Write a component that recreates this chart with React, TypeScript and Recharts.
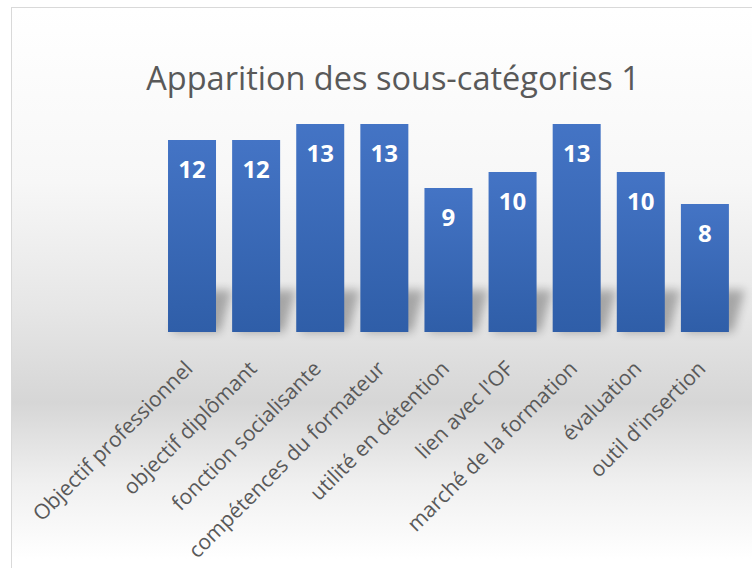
import { Bar, BarChart, LabelList, XAxis, YAxis } from "recharts";

const categories = [
  "Objectif professionnel",
  "objectif diplômant",
  "fonction socialisante",
  "compétences du formateur",
  "utilité en détention",
  "lien avec l'OF",
  "marché de la formation",
  "évaluation",
  "outil d'insertion"
];

const counts = [12, 12, 13, 13, 9, 10, 13, 10, 8];

const chartData = categories.map((name, i) => ({ name, value: counts[i] }));

const font = "'Open Sans', 'Noto Sans', sans-serif";

function AngledTick(props: any) {
  const { x, y, payload } = props;
  return (
    <g transform={`translate(${x + 2},${y + 30})`}>
      <text transform="rotate(-45)" textAnchor="end" fill="#595959" fontSize={21} fontFamily={font}>
        {payload.value}
      </text>
    </g>
  );
}

function ShadowBar(props: any) {
  const { x, y, width, height } = props;
  const bottom = y + height;
  const shadow = `${x + 4},${bottom} ${x + width + 4},${bottom} ${x + width + 16},${bottom - 42} ${x + 16},${bottom - 42}`;
  return (
    <g>
      <polygon points={shadow} fill="#000" opacity={0.28} filter="url(#barBlur)" />
      <rect x={x} y={y} width={width} height={height} fill="url(#barFill)" />
    </g>
  );
}

export default function App() {
  return (
    <div
      style={{
        position: "absolute",
        left: 11,
        top: 7,
        width: 760,
        height: 580,
        border: "1px solid #d9d9d9",
        background: "linear-gradient(to bottom, #ffffff 0%, #f7f7f7 30%, #e6e6e6 52%, #d6d6d6 68%, #f0f0f0 82%, #ffffff 95%)",
        fontFamily: font
      }}
    >
      <svg width={0} height={0} style={{ position: "absolute" }}>
        <defs>
          <linearGradient id="barFill" x1="0" y1="0" x2="0" y2="1">
            <stop offset="0%" stopColor="#4474c5" />
            <stop offset="100%" stopColor="#2f5ea8" />
          </linearGradient>
          <filter id="barBlur" x="-50%" y="-50%" width="200%" height="200%">
            <feGaussianBlur stdDeviation="5" />
          </filter>
        </defs>
      </svg>
      <div
        style={{
          position: "absolute",
          left: 0,
          width: 762,
          top: 50,
          textAlign: "center",
          fontSize: 32.5,
          color: "#595959",
          fontWeight: 400,
          lineHeight: "40px"
        }}
      >
        Apparition des sous-catégories 1
      </div>
      <BarChart
        width={760}
        height={580}
        data={chartData}
        margin={{ top: 100, right: 35, bottom: 0, left: 148 }}
        barCategoryGap="12.5%"
      >
        <XAxis
          dataKey="name"
          axisLine={false}
          tickLine={false}
          interval={0}
          height={256}
          tick={<AngledTick />}
        />
        <YAxis hide domain={[0, 14]} />
        <Bar dataKey="value" isAnimationActive={false} shape={<ShadowBar />}>
          <LabelList
            dataKey="value"
            position="insideTop"
            offset={21}
            fill="#ffffff"
            fontSize={24}
            fontWeight={700}
            fontFamily={font}
          />
        </Bar>
      </BarChart>
    </div>
  );
}
